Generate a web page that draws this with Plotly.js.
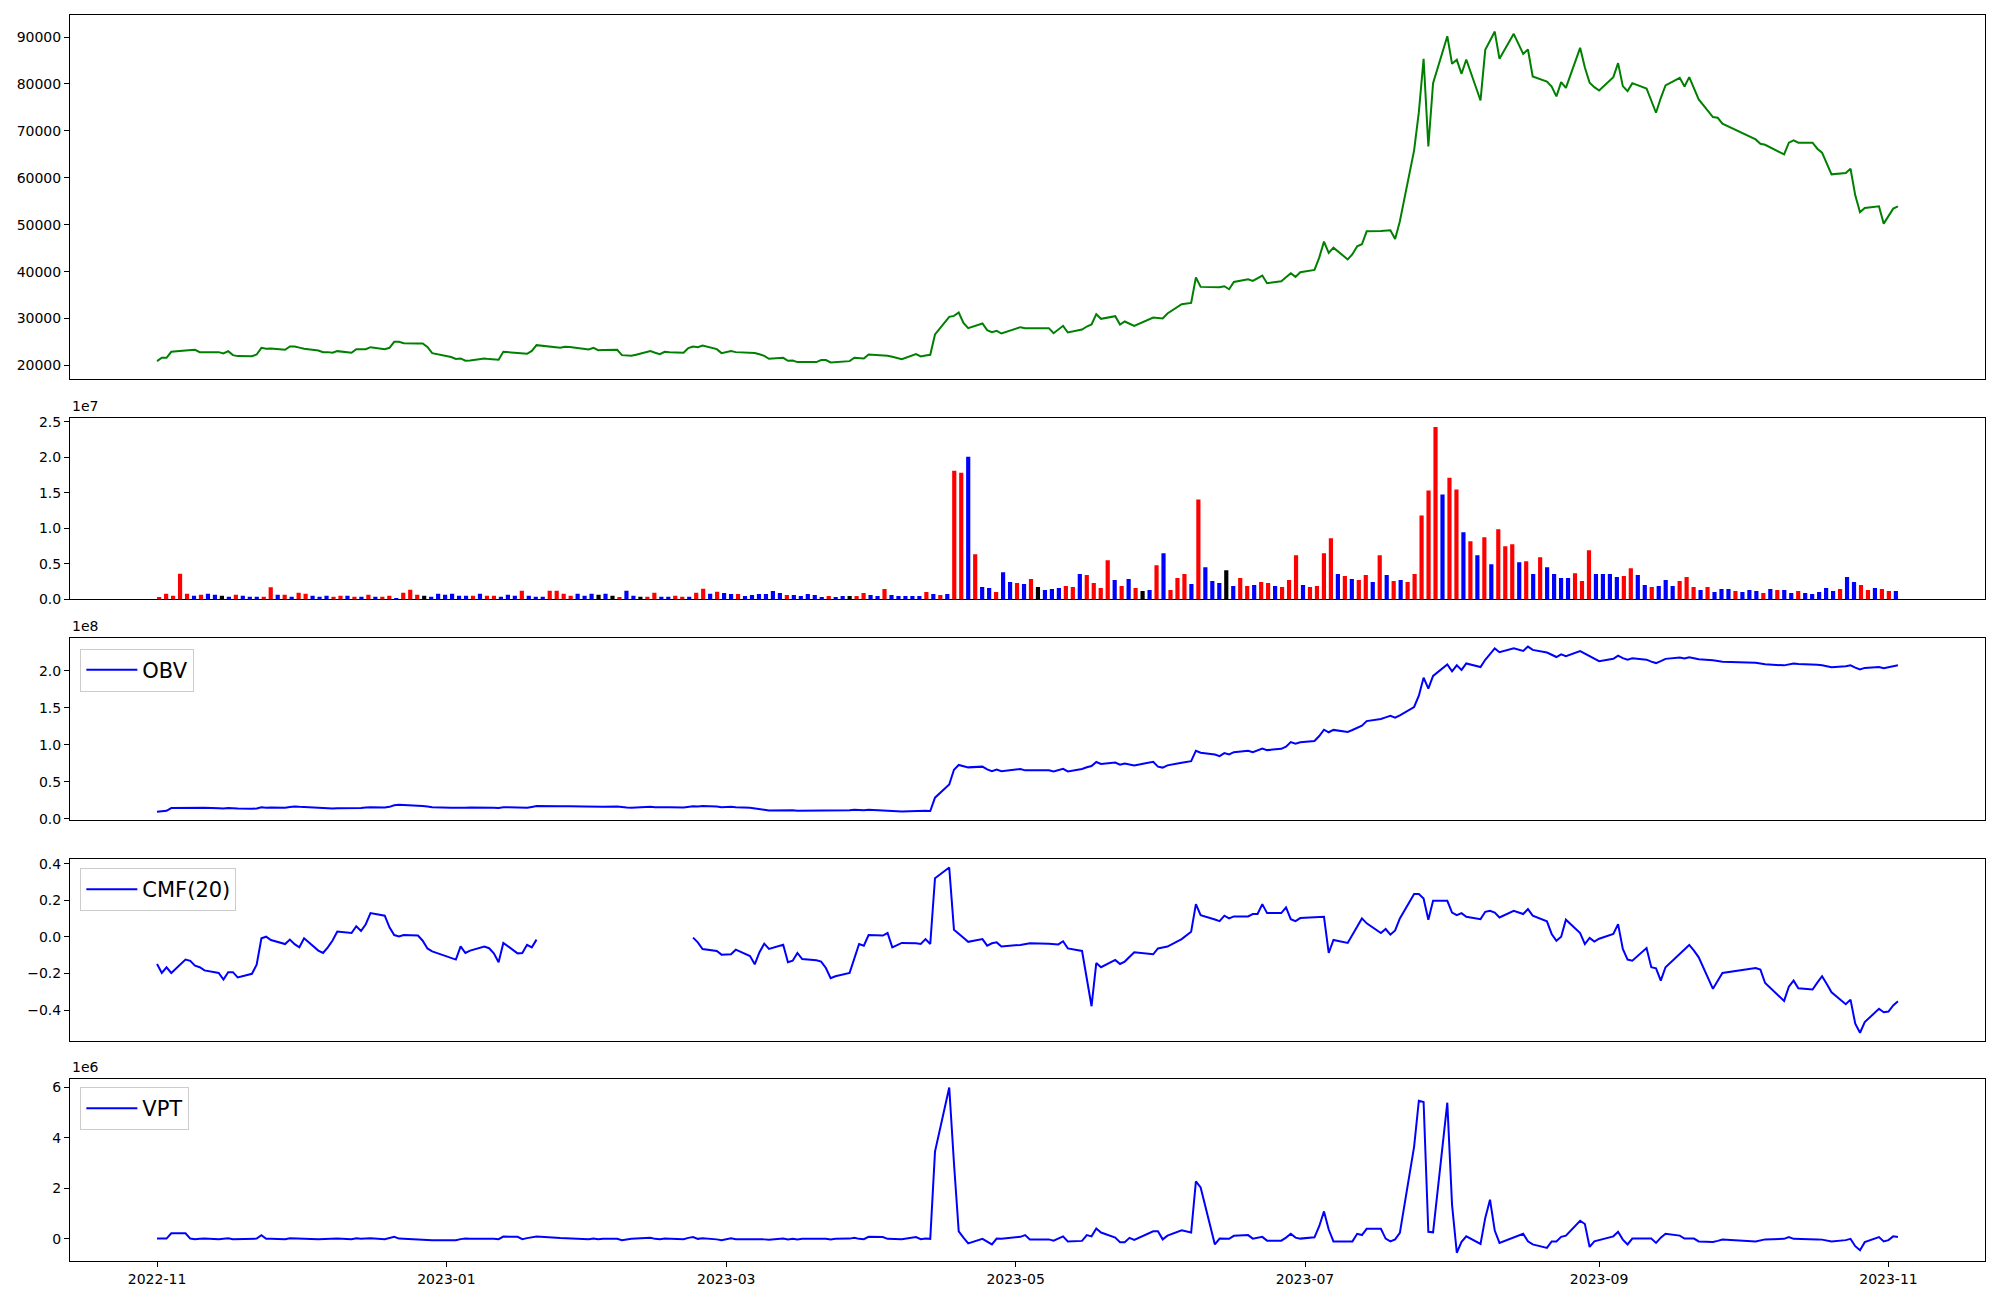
<!DOCTYPE html>
<html>
<head>
<meta charset="utf-8">
<script src="https://cdn.plot.ly/plotly-3.0.1.min.js"></script>
<style>
html,body{margin:0;padding:0;background:#fff;}
#chart{width:2000px;height:1300px;}
</style>
</head>
<body>
<div id="chart"></div>
<script>
// ---- Trading dates (categories) ----
const dates = [
"2022-11-01","2022-11-02","2022-11-03","2022-11-04","2022-11-07","2022-11-08","2022-11-09","2022-11-10","2022-11-11","2022-11-14",
"2022-11-15","2022-11-16","2022-11-17","2022-11-18","2022-11-21","2022-11-22","2022-11-23","2022-11-24","2022-11-25","2022-11-28",
"2022-11-29","2022-11-30","2022-12-01","2022-12-02","2022-12-05","2022-12-06","2022-12-07","2022-12-08","2022-12-09","2022-12-12",
"2022-12-13","2022-12-14","2022-12-15","2022-12-16","2022-12-19","2022-12-20","2022-12-21","2022-12-22","2022-12-23","2022-12-26",
"2022-12-27","2022-12-28","2022-12-29","2023-01-02","2023-01-03","2023-01-04","2023-01-05","2023-01-06","2023-01-09","2023-01-10",
"2023-01-11","2023-01-12","2023-01-13","2023-01-16","2023-01-17","2023-01-18","2023-01-19","2023-01-20","2023-01-25","2023-01-26",
"2023-01-27","2023-01-30","2023-01-31","2023-02-01","2023-02-02","2023-02-03","2023-02-06","2023-02-07","2023-02-08","2023-02-09",
"2023-02-10","2023-02-13","2023-02-14","2023-02-15","2023-02-16","2023-02-17","2023-02-20","2023-02-21","2023-02-22","2023-02-23",
"2023-02-24","2023-02-27","2023-02-28","2023-03-02","2023-03-03","2023-03-06","2023-03-07","2023-03-08","2023-03-09","2023-03-10",
"2023-03-13","2023-03-14","2023-03-15","2023-03-16","2023-03-17","2023-03-20","2023-03-21","2023-03-22","2023-03-23","2023-03-24",
"2023-03-27","2023-03-28","2023-03-29","2023-03-30","2023-03-31","2023-04-03","2023-04-04","2023-04-05","2023-04-06","2023-04-07",
"2023-04-10","2023-04-11","2023-04-12","2023-04-13","2023-04-14","2023-04-17","2023-04-18","2023-04-19","2023-04-20","2023-04-21",
"2023-04-24","2023-04-25","2023-04-26","2023-04-27","2023-04-28","2023-05-02","2023-05-03","2023-05-04","2023-05-08","2023-05-09",
"2023-05-10","2023-05-11","2023-05-12","2023-05-15","2023-05-16","2023-05-17","2023-05-18","2023-05-19","2023-05-22","2023-05-23",
"2023-05-24","2023-05-25","2023-05-26","2023-05-30","2023-05-31","2023-06-01","2023-06-02","2023-06-05","2023-06-07","2023-06-08",
"2023-06-09","2023-06-12","2023-06-13","2023-06-14","2023-06-15","2023-06-16","2023-06-19","2023-06-20","2023-06-21","2023-06-22",
"2023-06-23","2023-06-26","2023-06-27","2023-06-28","2023-06-29","2023-06-30","2023-07-03","2023-07-04","2023-07-05","2023-07-06",
"2023-07-07","2023-07-10","2023-07-11","2023-07-12","2023-07-13","2023-07-14","2023-07-17","2023-07-18","2023-07-19","2023-07-20",
"2023-07-21","2023-07-24","2023-07-25","2023-07-26","2023-07-27","2023-07-28","2023-07-31","2023-08-01","2023-08-02","2023-08-03",
"2023-08-04","2023-08-07","2023-08-08","2023-08-09","2023-08-10","2023-08-11","2023-08-14","2023-08-16","2023-08-17","2023-08-18",
"2023-08-21","2023-08-22","2023-08-23","2023-08-24","2023-08-25","2023-08-28","2023-08-29","2023-08-30","2023-08-31","2023-09-01",
"2023-09-04","2023-09-05","2023-09-06","2023-09-07","2023-09-08","2023-09-11","2023-09-12","2023-09-13","2023-09-14","2023-09-15",
"2023-09-18","2023-09-19","2023-09-20","2023-09-21","2023-09-22","2023-09-25","2023-09-26","2023-09-27","2023-10-04","2023-10-05",
"2023-10-06","2023-10-10","2023-10-11","2023-10-12","2023-10-13","2023-10-16","2023-10-17","2023-10-18","2023-10-19","2023-10-20",
"2023-10-23","2023-10-24","2023-10-25","2023-10-26","2023-10-27","2023-10-30","2023-10-31","2023-11-01","2023-11-02","2023-11-03"
];

// ---- Close price ----
const close = [
20920,21630,21630,22910,23190,23190,23340,22840,22840,22840,
22550,23050,22200,21990,21950,22340,23760,23550,23620,23340,
24050,24050,23800,23550,23190,22840,22840,22700,23050,22700,
23480,23480,23480,23900,23480,23760,25040,25040,24750,24700,
24680,23950,22630,21800,21400,21490,21000,21060,21490,21350,
21260,21210,22910,22650,22560,22480,23100,24330,23800,24000,
23950,23500,23400,23760,23260,23300,23340,22200,22100,22060,
22300,23050,22700,22410,22910,22800,22700,23690,24050,23900,
24260,23480,22630,23050,22840,22700,22630,22400,22060,21420,
21630,21000,21060,20710,20710,20710,21140,21140,20640,20700,
20920,21630,21560,21490,22340,22150,22060,21850,21600,21350,
22410,21920,22100,22270,26600,30360,30570,31280,29080,27950,
28940,27520,27100,27380,26810,28160,27950,27950,27950,26880,
27700,28450,27030,27660,28300,28730,30930,29940,30500,28730,
29370,28900,28450,30220,30100,30000,31070,33060,33340,38740,
36750,36700,36680,36890,36250,37810,38380,38030,38600,39160,
37530,37960,38800,39660,38880,39870,40370,43000,46400,43990,
45120,42600,43700,45410,45830,48600,48650,48700,48810,46970,
50730,65850,74000,85370,66700,80180,90190,84300,85150,82170,
85220,76490,87280,89200,91180,85370,90690,86430,87350,81600,
80500,79470,77350,80400,79190,87710,83500,80260,79330,78620,
81460,84440,79550,78480,80180,79050,76500,73870,77000,79690,
81320,79470,81460,79000,76710,72950,72800,71530,68190,67270,
67050,65000,67480,67980,67480,67480,66200,65350,63000,60740,
61020,61940,56270,52650,53570,53920,50230,51800,53430,53920
];

// ---- Volume (millions of shares) ----
const volumeM = [
0.33,0.8,0.5,3.6,0.8,0.5,0.65,0.8,0.65,0.5,
0.37,0.65,0.5,0.37,0.37,0.37,1.7,0.65,0.65,0.37,
0.93,0.8,0.5,0.37,0.5,0.37,0.5,0.5,0.37,0.37,
0.65,0.37,0.37,0.5,0.2,0.93,1.35,0.65,0.5,0.37,
0.8,0.65,0.8,0.5,0.5,0.5,0.8,0.5,0.5,0.37,
0.65,0.5,1.2,0.5,0.37,0.37,1.2,1.2,0.8,0.5,
0.8,0.5,0.8,0.65,0.8,0.5,0.33,1.2,0.5,0.37,
0.37,0.93,0.37,0.37,0.5,0.37,0.37,0.93,1.5,0.8,
1.07,0.9,0.75,0.75,0.47,0.61,0.75,0.75,1.17,0.89,
0.61,0.61,0.47,0.75,0.61,0.33,0.47,0.33,0.47,0.47,
0.47,0.89,0.61,0.47,1.45,0.61,0.47,0.47,0.47,0.47,
1.03,0.75,0.61,0.75,18.13,17.85,20.09,6.36,1.73,1.59,
1.03,3.83,2.43,2.29,2.15,2.85,1.73,1.31,1.45,1.59,
1.87,1.73,3.55,3.41,2.29,1.59,5.51,2.71,1.87,2.85,
1.59,1.17,1.31,4.81,6.50,1.31,2.99,3.55,2.15,14.07,
4.53,2.57,2.29,4.11,1.87,2.99,1.87,2.01,2.43,2.29,
1.87,1.73,2.71,6.21,2.01,1.73,1.87,6.50,8.60,3.55,
3.27,2.85,2.71,3.41,2.43,6.21,3.41,2.57,2.71,2.43,
3.55,11.82,15.33,24.30,14.77,17.15,15.47,9.44,8.18,6.21,
8.74,4.95,9.86,7.48,7.76,5.23,5.37,3.55,5.93,4.53,
3.55,2.99,2.99,3.69,2.57,6.92,3.55,3.55,3.55,3.13,
3.27,4.39,3.41,2.01,1.73,1.87,2.71,1.87,2.57,3.13,
1.73,1.31,1.73,1.03,1.45,1.45,1.17,1.03,1.31,1.17,
0.89,1.45,1.31,1.31,0.89,1.17,0.89,0.75,1.03,1.59,
1.17,1.45,3.13,2.43,2.01,1.31,1.59,1.45,1.17,1.17
];

// ---- Candle direction of each day: 1 up, -1 down, 0 unchanged ----
const direction = [
1,1,1,1,1,-1,1,-1,-1,0,
-1,1,-1,-1,-1,1,1,-1,1,-1,
1,1,-1,-1,-1,1,1,-1,1,-1,
1,-1,1,1,-1,1,1,1,0,-1,
-1,-1,-1,-1,-1,1,-1,1,1,-1,
-1,-1,1,-1,-1,-1,1,1,1,1,
-1,-1,-1,0,-1,0,1,-1,-1,0,
1,1,-1,-1,1,1,-1,1,1,-1,
1,-1,-1,1,-1,-1,-1,-1,-1,-1,
1,-1,-1,-1,-1,-1,1,-1,-1,0,
1,1,-1,-1,1,-1,-1,-1,-1,-1,
1,-1,1,-1,1,1,-1,1,-1,-1,
1,-1,-1,1,-1,1,0,-1,-1,-1,
1,1,-1,1,1,1,1,-1,1,-1,
1,0,-1,1,-1,1,1,1,-1,1,
-1,-1,-1,0,-1,1,1,-1,1,1,
-1,1,1,1,-1,1,1,1,1,-1,
1,-1,1,1,-1,1,-1,1,-1,1,
1,1,1,1,-1,1,1,-1,1,-1,
1,-1,1,1,1,-1,1,-1,1,-1,
-1,-1,-1,1,1,1,-1,-1,-1,-1,
1,1,-1,-1,1,-1,-1,-1,1,1,
1,-1,1,-1,-1,-1,1,-1,-1,-1,
1,-1,1,-1,-1,1,-1,-1,-1,-1,
-1,1,-1,-1,1,1,-1,1,1,-1
];

// ---- OBV (in units of 1e8) ----
const obvE8 = [
.098,.106,.111,.147,.152,.152,.157,.151,.151,.146,
.142,.149,.144,.141,.137,.141,.158,.151,.156,.152,
.161,.169,.164,.160,.155,.151,.146,.141,.146,.142,
.149,.149,.154,.159,.155,.164,.185,.192,.188,.183,
.175,.168,.160,.153,.149,.155,.151,.154,.158,.155,
.152,.148,.160,.156,.153,.151,.163,.175,.171,.175,
.173,.169,.166,.171,.167,.167,.170,.158,.154,.152,
.156,.164,.159,.155,.160,.157,.154,.163,.172,.168,
.176,.168,.160,.165,.158,.152,.146,.136,.125,.116,
.120,.114,.118,.113,.113,.113,.117,.117,.112,.115,
.119,.126,.121,.117,.124,.119,.114,.111,.106,.102,
.112,.106,.110,.107,.288,.466,.666,.730,.713,.697,
.707,.669,.645,.668,.646,.675,.657,.657,.657,.641,
.660,.677,.642,.676,.699,.715,.770,.743,.762,.733,
.749,.737,.724,.772,.707,.694,.724,.760,.781,.922,
.895,.870,.848,.890,.872,.902,.921,.901,.925,.950,
.930,.947,.975,1.038,1.018,1.035,1.054,1.120,1.206,1.171,
1.203,1.175,1.202,1.236,1.260,1.322,1.350,1.372,1.392,1.368,
1.400,1.512,1.665,1.908,1.760,1.932,2.087,1.993,2.075,2.013,
2.100,2.051,2.150,2.225,2.303,2.251,2.304,2.269,2.328,2.283,
2.247,2.217,2.187,2.224,2.198,2.267,2.232,2.196,2.161,2.130,
2.162,2.206,2.172,2.152,2.169,2.151,2.124,2.105,2.131,2.162,
2.179,2.166,2.183,2.173,2.158,2.144,2.132,2.122,2.109,2.097,
2.088,2.074,2.087,2.100,2.091,2.091,2.082,2.075,2.065,2.049,
2.061,2.075,2.044,2.020,2.040,2.053,2.037,2.051,2.063,2.075
];

// ---- CMF(20) ----
const cmf = [
-0.148,-0.197,-0.166,-0.197,-0.124,-0.131,-0.157,-0.166,-0.183,-0.197,
-0.233,-0.193,-0.193,-0.222,-0.202,-0.152,-0.008,0.001,-0.017,-0.039,
-0.015,-0.040,-0.057,-0.008,-0.075,-0.088,-0.057,-0.020,0.029,0.021,
0.058,0.032,0.069,0.130,0.116,0.052,0.010,0.003,0.010,0.007,
-0.021,-0.063,-0.079,-0.118,-0.124,-0.052,-0.088,-0.075,-0.053,-0.062,
-0.090,-0.139,-0.033,-0.090,-0.088,-0.043,-0.057,-0.015,null,null,
null,null,null,null,null,null,null,null,null,null,
null,null,null,null,null,null,null,null,-0.004,-0.030,
-0.066,-0.077,-0.097,-0.095,-0.070,-0.105,-0.150,-0.084,-0.037,-0.066,
-0.043,-0.139,-0.130,-0.088,-0.121,-0.128,-0.135,-0.170,-0.226,-0.215,
-0.197,-0.112,-0.039,-0.048,0.010,0.007,0.021,-0.057,-0.045,-0.033,
-0.035,-0.039,-0.012,-0.039,0.321,0.379,0.039,0.015,-0.005,-0.027,
-0.012,-0.048,-0.035,-0.030,-0.052,-0.044,-0.040,-0.035,-0.038,-0.040,
-0.041,-0.024,-0.063,-0.077,-0.220,-0.379,-0.143,-0.166,-0.126,-0.148,
-0.135,-0.110,-0.084,-0.095,-0.063,-0.058,-0.053,-0.012,0.028,0.179,
0.119,0.095,0.086,0.116,0.101,0.112,0.112,0.125,0.125,0.179,
0.130,0.130,0.161,0.097,0.086,0.103,0.105,0.108,0.110,-0.088,
-0.017,-0.033,0.010,0.060,0.101,0.074,0.021,0.043,0.012,0.035,
0.101,0.234,0.234,0.210,0.094,0.197,0.197,0.133,0.119,0.130,
0.110,0.097,0.137,0.143,0.133,0.106,0.143,0.125,0.152,0.116,
0.085,0.016,-0.021,0.001,0.094,0.021,-0.039,-0.006,-0.026,-0.010,
0.016,0.070,-0.066,-0.124,-0.130,-0.061,-0.166,-0.172,-0.239,-0.166,
-0.093,-0.068,-0.044,-0.075,-0.112,-0.284,-0.240,-0.197,-0.170,-0.179,
-0.252,-0.350,-0.272,-0.239,-0.281,-0.288,-0.250,-0.215,-0.257,-0.303,
-0.368,-0.343,-0.475,-0.524,-0.466,-0.393,-0.412,-0.408,-0.375,-0.352
];

// ---- VPT (in units of 1e6) ----
const vptE6 = [
0.01,0.01,0.01,0.22,0.22,0.01,-0.01,0,0.01,-0.01,
0,0.02,-0.01,-0.01,-0.01,0.01,0.145,0,0,-0.01,
0.02,0.01,-0.01,0,-0.01,0,0.01,0,0.01,-0.01,
0.02,0,0.01,0.02,-0.01,0.03,0.08,0.01,0,0,
-0.01,-0.04,-0.05,-0.05,-0.05,-0.01,0.01,0,0.01,0,
0,-0.01,0.09,0.08,-0.01,0.03,0.06,0.09,0.03,0.02,
0,-0.01,-0.01,0.01,-0.01,0,0,-0.05,-0.01,0,
0.01,0.04,0,-0.01,0.01,0,-0.01,0.04,0.07,0,
0.02,-0.02,-0.05,0.02,-0.01,-0.01,0,-0.01,-0.02,-0.03,
0.01,-0.02,0,-0.02,0,0,0.02,0,-0.02,0,
0.01,0.04,0,-0.01,0.08,0.07,0,-0.01,-0.01,-0.01,
0.07,-0.01,0.01,0,3.46,6.0,3.0,0.30,0.05,-0.18,
0,-0.10,-0.22,0.01,0,0.08,0.15,-0.02,-0.02,-0.07,
0.03,0.10,-0.10,-0.08,0.15,0.10,0.41,0.25,0.05,-0.13,
-0.13,0.04,-0.04,0.30,0.30,-0.02,0.13,0.34,0.25,2.28,
2.04,-0.22,0.01,0,0,0.12,0.15,0.01,0.04,0.08,
-0.07,-0.07,0.05,0.20,0.05,0.01,0.06,0.50,1.09,0.37,
-0.10,-0.10,-0.10,0.20,0.15,0.40,0.40,0.01,-0.10,-0.02,
0.24,3.66,5.48,5.43,0.28,0.26,5.40,1.35,-0.55,-0.12,
0.10,-0.20,0.83,1.55,0.33,-0.16,0.04,0.20,-0.10,-0.22,
-0.36,-0.10,-0.10,0.08,0.13,0.72,0.59,-0.32,-0.10,-0.05,
0.10,0.28,-0.03,-0.22,0.01,0.01,0.01,-0.16,0.05,0.20,
0.13,0.01,0.01,0.01,-0.10,-0.12,-0.08,-0.03,-0.10,-0.05,
-0.02,0,0.07,0,0,-0.01,-0.02,-0.03,-0.05,-0.10,
-0.05,0,-0.29,-0.45,-0.13,0.07,-0.10,-0.05,0.10,0.07
];

// ---- Derived series (unit conversion only) ----
const volume = volumeM.map(v => v * 1e6);
const obv = obvE8.map(v => v * 1e8);
const vpt = vptE6.map(v => v * 1e6);
const barIndex = volume.map((_, i) => i);
const dirColor = {"1": "#ff0000", "-1": "#0000ff", "0": "#000000"};
const barColors = direction.map(d => dirColor[String(d)]);

// ---- Matplotlib-like 5% margins ----
function padRange(arr) {
  const v = arr.filter(x => x !== null && x !== undefined);
  const mn = Math.min(...v), mx = Math.max(...v);
  const p = (mx - mn) * 0.05;
  return [mn - p, mx + p];
}
function shiftDate(s, days) {
  const t = Date.parse(s + "T00:00:00Z") + days * 86400000;
  return new Date(t).toISOString().replace("T", " ").slice(0, 19);
}
const spanDays = (Date.parse(dates[dates.length-1]) - Date.parse(dates[0])) / 86400000;
const dateRange = [shiftDate(dates[0], -0.05 * spanDays), shiftDate(dates[dates.length-1], 0.05 * spanDays)];
const barW = 0.6;
const nB = barIndex.length;
const barSpan = (nB - 1) + barW;
const barRange = [-barW/2 - 0.05 * barSpan, (nB - 1) + barW/2 + 0.05 * barSpan];

const FONT = "DejaVu Sans, Liberation Sans, sans-serif";
const tickFont = {family: FONT, size: 14, color: "#000"};
const axisBase = {
  showline: true, mirror: true, linecolor: "#000", linewidth: 1,
  showgrid: false, zeroline: false,
  ticks: "outside", ticklen: 5, tickwidth: 1, tickcolor: "#000",
  tickfont: tickFont
};
const hiddenX = Object.assign({}, axisBase, {ticks: "", showticklabels: false});

const doms = {
  p1: [0.70787, 1.0],
  p2: [0.53106, 0.67632],
  p3: [0.35393, 0.49976],
  p4: [0.17657, 0.32239],
  p5: [0.0, 0.14583]
};

const traces = [
  {type: "scatter", mode: "lines", x: dates, y: close, xaxis: "x", yaxis: "y",
   line: {color: "#008000", width: 2}, showlegend: false, name: "Close"},
  {type: "bar", x: barIndex, y: volume, xaxis: "x2", yaxis: "y2", width: barW,
   marker: {color: barColors, line: {width: 0}}, showlegend: false, name: "Volume"},
  {type: "scatter", mode: "lines", x: dates, y: obv, xaxis: "x3", yaxis: "y3",
   line: {color: "#0000ff", width: 2}, name: "OBV", showlegend: true, legend: "legend"},
  {type: "scatter", mode: "lines", x: dates, y: cmf, xaxis: "x4", yaxis: "y4",
   line: {color: "#0000ff", width: 2}, name: "CMF(20)", showlegend: true, legend: "legend2",
   connectgaps: false},
  {type: "scatter", mode: "lines", x: dates, y: vpt, xaxis: "x5", yaxis: "y5",
   line: {color: "#0000ff", width: 2}, name: "VPT", showlegend: true, legend: "legend3"}
];

const legendBase = {
  xanchor: "left", yanchor: "top", x: 0.0054,
  bgcolor: "rgba(255,255,255,0.8)", bordercolor: "#cccccc", borderwidth: 1,
  font: {family: FONT, size: 21, color: "#000"}, itemwidth: 51,
  tracegroupgap: 0
};

const layout = {
  width: 2000, height: 1300,
  margin: {l: 70, r: 15, t: 15, b: 39},
  paper_bgcolor: "#fff", plot_bgcolor: "#fff",
  font: {family: FONT, color: "#000"},
  hovermode: false,
  xaxis: Object.assign({}, hiddenX, {type: "date", range: dateRange, domain: [0,1], anchor: "y"}),
  xaxis2: Object.assign({}, hiddenX, {type: "linear", range: barRange, domain: [0,1], anchor: "y2"}),
  xaxis3: Object.assign({}, hiddenX, {type: "date", range: dateRange, domain: [0,1], anchor: "y3"}),
  xaxis4: Object.assign({}, hiddenX, {type: "date", range: dateRange, domain: [0,1], anchor: "y4"}),
  xaxis5: Object.assign({}, axisBase, {type: "date", range: dateRange, domain: [0,1], anchor: "y5",
    tickformat: "%Y-%m", dtick: "M2", tick0: "2022-11-01"}),
  yaxis: Object.assign({}, axisBase, {domain: doms.p1, anchor: "x", range: padRange(close),
    dtick: 10000, tick0: 0, tickformat: "d"}),
  yaxis2: Object.assign({}, axisBase, {domain: doms.p2, anchor: "x2",
    range: [0, Math.max(...volume) * 1.05],
    tickvals: [0, 5e6, 1e7, 1.5e7, 2e7, 2.5e7], ticktext: ["0.0","0.5","1.0","1.5","2.0","2.5"]}),
  yaxis3: Object.assign({}, axisBase, {domain: doms.p3, anchor: "x3", range: padRange(obv),
    tickvals: [0, 5e7, 1e8, 1.5e8, 2e8], ticktext: ["0.0","0.5","1.0","1.5","2.0"]}),
  yaxis4: Object.assign({}, axisBase, {domain: doms.p4, anchor: "x4", range: padRange(cmf),
    tickvals: [-0.4, -0.2, 0, 0.2, 0.4], ticktext: ["\u22120.4","\u22120.2","0.0","0.2","0.4"]}),
  yaxis5: Object.assign({}, axisBase, {domain: doms.p5, anchor: "x5", range: padRange(vpt),
    tickvals: [0, 2e6, 4e6, 6e6], ticktext: ["0","2","4","6"]}),
  legend: Object.assign({}, legendBase, {y: 0.49157}),
  legend2: Object.assign({}, legendBase, {y: 0.31540}),
  legend3: Object.assign({}, legendBase, {y: 0.13964}),
  annotations: [
    {text: "1e7", xref: "paper", yref: "paper", x: 0, y: doms.p2[1], xanchor: "left", yanchor: "bottom",
     showarrow: false, font: {family: FONT, size: 14, color: "#000"}, yshift: 2},
    {text: "1e8", xref: "paper", yref: "paper", x: 0, y: doms.p3[1], xanchor: "left", yanchor: "bottom",
     showarrow: false, font: {family: FONT, size: 14, color: "#000"}, yshift: 2},
    {text: "1e6", xref: "paper", yref: "paper", x: 0, y: doms.p5[1], xanchor: "left", yanchor: "bottom",
     showarrow: false, font: {family: FONT, size: 14, color: "#000"}, yshift: 2}
  ]
};

Plotly.newPlot("chart", traces, layout, {displayModeBar: false, staticPlot: true});
</script>
</body>
</html>
